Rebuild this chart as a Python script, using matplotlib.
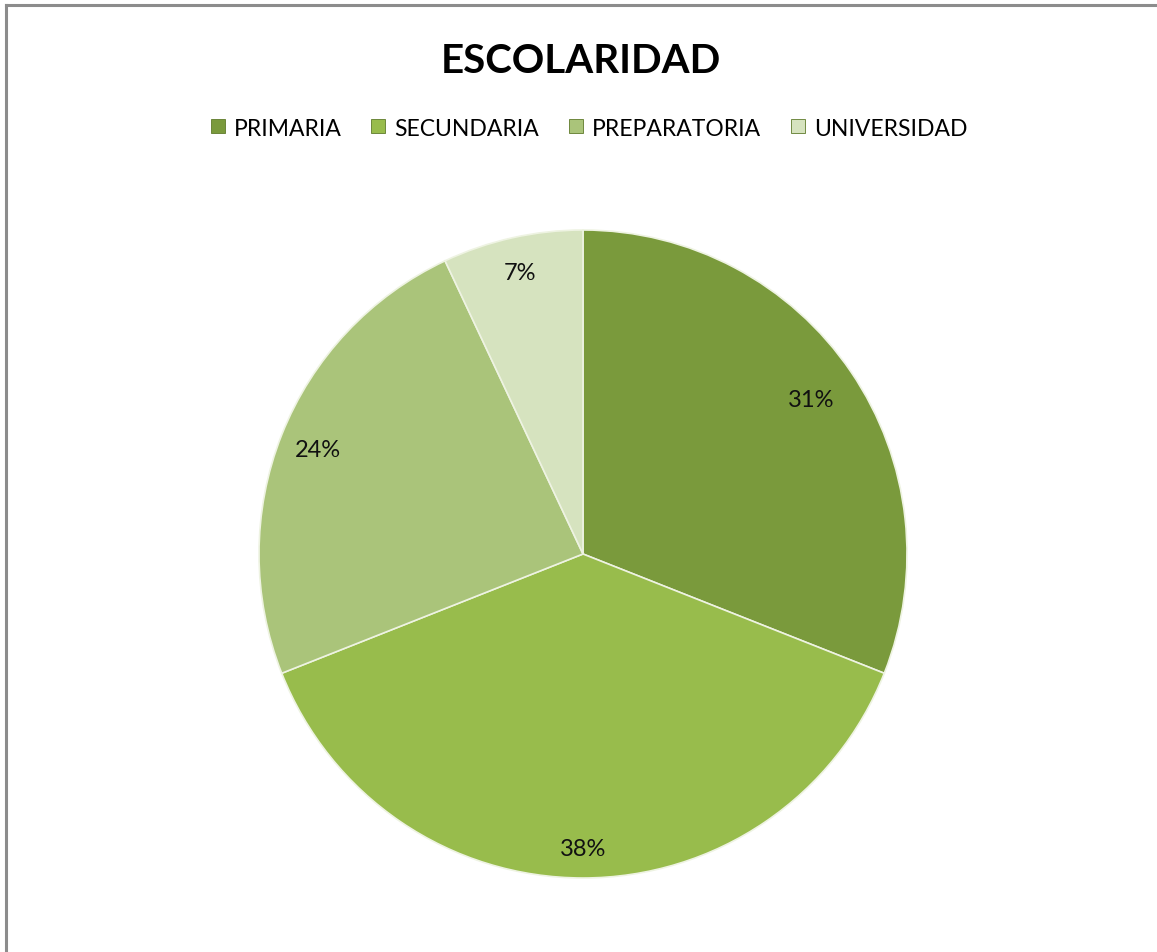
import numpy as np
import matplotlib.pyplot as plt
from matplotlib.lines import Line2D

plt.rcParams['font.family'] = ['Lato', 'DejaVu Sans']

categories = ['PRIMARIA', 'SECUNDARIA', 'PREPARATORIA', 'UNIVERSIDAD']
values = [31, 38, 24, 7]
colors = ['#7A9A3C', '#98BC4C', '#AAC47A', '#D6E3BF']

W, H = 1157, 953
fig = plt.figure(figsize=(W / 100, H / 100), dpi=100)

# chart frame (right and bottom sides fall outside the picture)
fig.add_artist(Line2D([6 / W, 1], [1 - 6 / H, 1 - 6 / H], color='#8C8C8C', lw=2.2))
fig.add_artist(Line2D([6 / W, 6 / W], [0, 1 - 6 / H], color='#8C8C8C', lw=2.2))

cx, cy, r = 583, 555, 324
ax = fig.add_axes([(cx - r) / W, (H - cy - r) / H, 2 * r / W, 2 * r / H])
wedges, texts, autotexts = ax.pie(values, colors=colors, startangle=90, counterclock=False,
                                  autopct='%1.0f%%', pctdistance=0.88,
                                  wedgeprops=dict(edgecolor='#EEF3E2', linewidth=1.2),
                                  textprops=dict(fontsize=17, color='#111111'))
# excel-style label placement, a bit different for each slice
label_r = [0.85, 0.91, 0.88, 0.89]
for t, w, lr in zip(autotexts, wedges, label_r):
    a = np.deg2rad((w.theta1 + w.theta2) / 2)
    t.set_position((lr * np.cos(a), lr * np.sin(a)))
ax.set_xlim(-1, 1)
ax.set_ylim(-1, 1)
ax.set_aspect('equal')

fig.text(581 / W, 1 - 73 / H, 'ESCOLARIDAD', ha='center', va='baseline',
         fontsize=29, fontweight='bold')

handles = [Line2D([], [], marker='s', linestyle='none', markersize=10,
                  markerfacecolor=c, markeredgecolor='#5E7A2A', markeredgewidth=0.6)
           for c in colors]
fig.legend(handles, categories, ncol=4, loc='center', bbox_to_anchor=(588 / W, 1 - 129 / H),
           frameon=False, fontsize=16.5, handlelength=0.8, handletextpad=0.3,
           columnspacing=1.2)

fig.savefig('out.png', dpi=100)
